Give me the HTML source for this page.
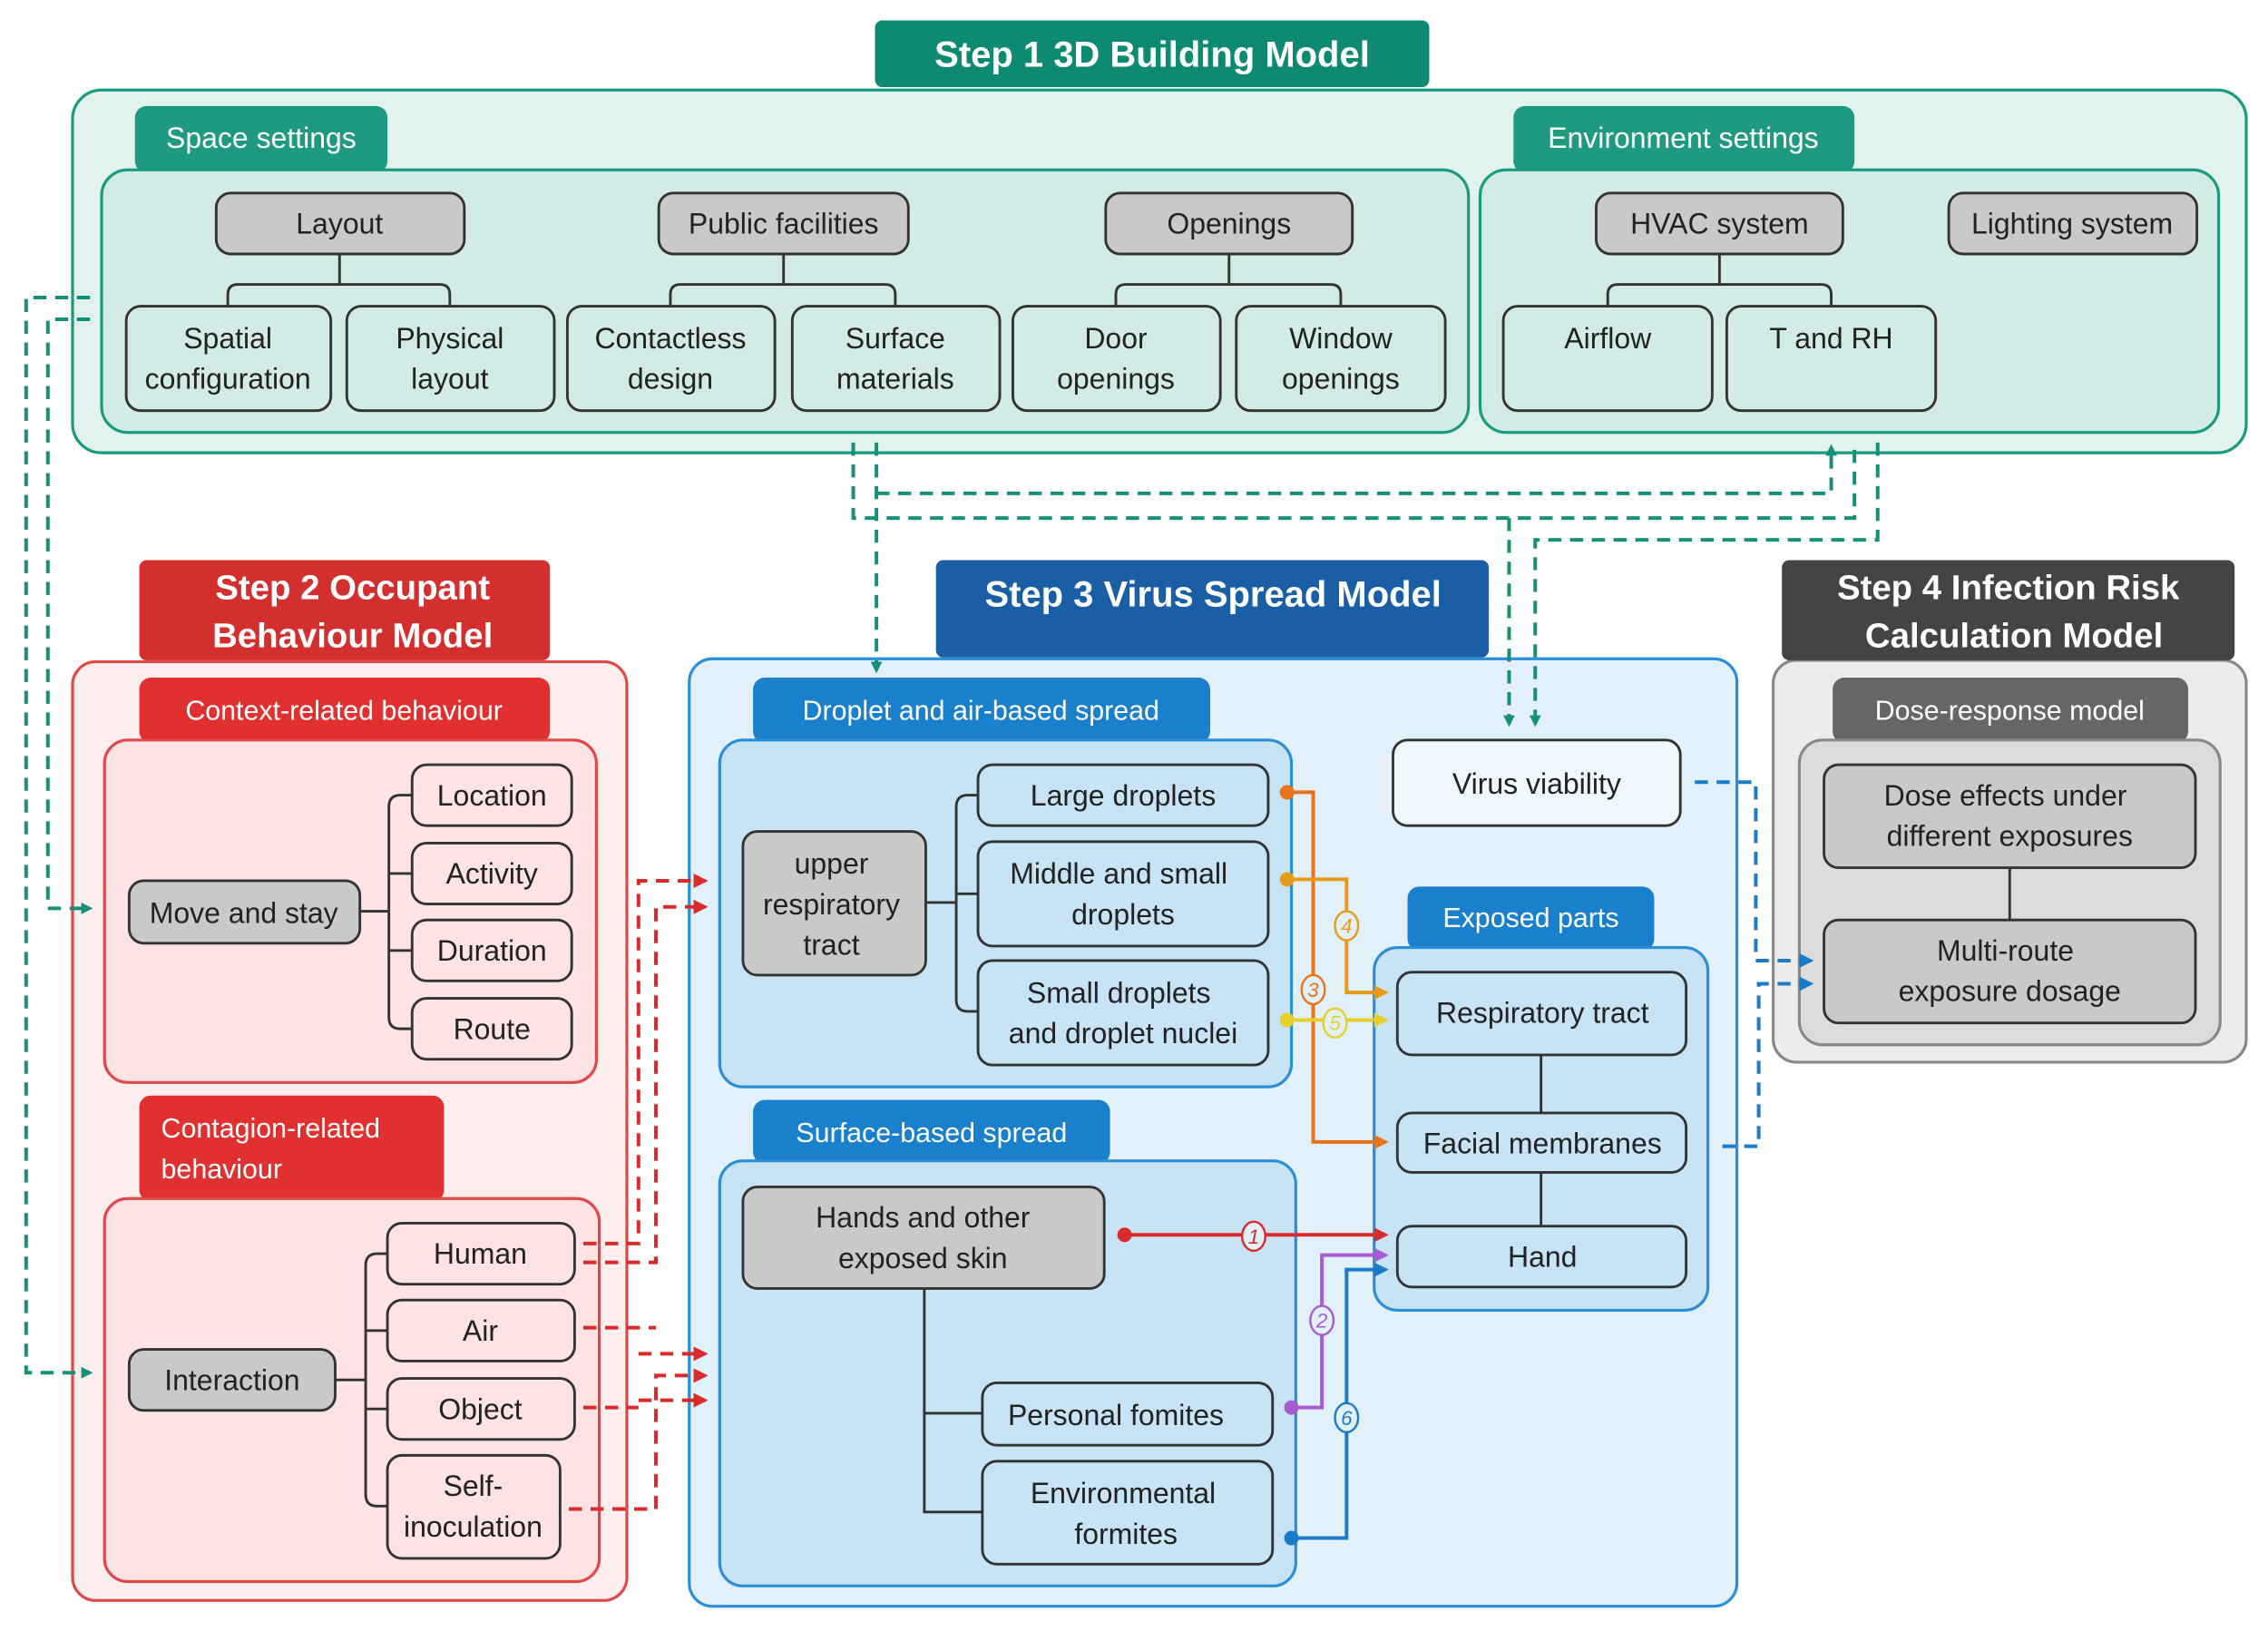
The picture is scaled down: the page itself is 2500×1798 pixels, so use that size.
<!DOCTYPE html>
<html><head><meta charset="utf-8"><style>html,body{margin:0;padding:0;background:#fff}svg{display:block}</style></head><body>
<svg xmlns="http://www.w3.org/2000/svg" width="2500" height="1798" viewBox="0 0 1563 1124" font-family="Liberation Sans, Arial, sans-serif">
<defs>
<marker id="at" markerWidth="8" markerHeight="8" refX="6" refY="4" orient="auto" markerUnits="userSpaceOnUse"><path d="M0,0L8,4L0,8z" fill="#17907a"/></marker>
<marker id="ar" markerWidth="10" markerHeight="10" refX="8" refY="5" orient="auto" markerUnits="userSpaceOnUse"><path d="M0,0L10,5L0,10z" fill="#d92b2b"/></marker>
<marker id="ab" markerWidth="10" markerHeight="10" refX="8" refY="5" orient="auto" markerUnits="userSpaceOnUse"><path d="M0,0L10,5L0,10z" fill="#1a7cc8"/></marker>
<marker id="ao" markerWidth="10" markerHeight="10" refX="8" refY="5" orient="auto" markerUnits="userSpaceOnUse"><path d="M0,0L10,5L0,10z" fill="#e8731a"/></marker>
<marker id="ao2" markerWidth="10" markerHeight="10" refX="8" refY="5" orient="auto" markerUnits="userSpaceOnUse"><path d="M0,0L10,5L0,10z" fill="#e89a1a"/></marker>
<marker id="ay" markerWidth="10" markerHeight="10" refX="8" refY="5" orient="auto" markerUnits="userSpaceOnUse"><path d="M0,0L10,5L0,10z" fill="#e6cf2a"/></marker>
<marker id="ap" markerWidth="10" markerHeight="10" refX="8" refY="5" orient="auto" markerUnits="userSpaceOnUse"><path d="M0,0L10,5L0,10z" fill="#a95bd0"/></marker>
</defs>

<!-- STEP 1 -->
<rect x="50" y="62" width="1498" height="250" rx="20" fill="#e2f2ee" stroke="#1a9a80" stroke-width="2"/>
<rect x="603" y="14" width="382" height="46" rx="5" fill="#0f8a72"/>
<text x="794" y="46" fill="#fff" font-size="25" font-weight="bold" text-anchor="middle">Step 1 3D Building Model</text>
<rect x="93" y="73" width="174" height="46" rx="8" fill="#1d9a80"/>
<text x="180" y="102" fill="#fff" font-size="20" text-anchor="middle">Space settings</text>
<rect x="1043" y="73" width="235" height="46" rx="8" fill="#1d9a80"/>
<text x="1160" y="102" fill="#fff" font-size="20" text-anchor="middle">Environment settings</text>
<rect x="70" y="117" width="942" height="181" rx="18" fill="#d3ebe6" stroke="#1a9a80" stroke-width="2"/>
<rect x="1020" y="117" width="509" height="181" rx="18" fill="#d3ebe6" stroke="#1a9a80" stroke-width="2"/>
<g fill="#c9c9c9" stroke="#333" stroke-width="1.8">
<rect x="149" y="133" width="171" height="42" rx="10"/>
<rect x="454" y="133" width="172" height="42" rx="10"/>
<rect x="762" y="133" width="170" height="42" rx="10"/>
<rect x="1100" y="133" width="170" height="42" rx="10"/>
<rect x="1343" y="133" width="171" height="42" rx="10"/>
</g>
<g font-size="20" fill="#222" text-anchor="middle">
<text x="234" y="161">Layout</text><text x="540" y="161">Public facilities</text><text x="847" y="161">Openings</text><text x="1185" y="161">HVAC system</text><text x="1428" y="161">Lighting system</text>
</g>
<g fill="#d3ebe6" stroke="#333" stroke-width="1.8">
<rect x="87" y="211" width="141" height="72" rx="10"/><rect x="239" y="211" width="143" height="72" rx="10"/>
<rect x="391" y="211" width="143" height="72" rx="10"/><rect x="546" y="211" width="143" height="72" rx="10"/>
<rect x="698" y="211" width="143" height="72" rx="10"/><rect x="852" y="211" width="144" height="72" rx="10"/>
<rect x="1036" y="211" width="144" height="72" rx="10"/><rect x="1190" y="211" width="144" height="72" rx="10"/>
</g>
<g fill="none" stroke="#333" stroke-width="1.8">
<path d="M234 175V196M157 211V203q0-7 7-7H303q7 0 7 7V211"/>
<path d="M540 175V196M462 211V203q0-7 7-7H610q7 0 7 7V211"/>
<path d="M847 175V196M769 211V203q0-7 7-7H917q7 0 7 7V211"/>
<path d="M1185 175V196M1108 211V203q0-7 7-7H1255q7 0 7 7V211"/>
</g>
<g font-size="20" fill="#222" text-anchor="middle">
<text x="157" y="240">Spatial</text><text x="157" y="268">configuration</text>
<text x="310" y="240">Physical</text><text x="310" y="268">layout</text>
<text x="462" y="240">Contactless</text><text x="462" y="268">design</text>
<text x="617" y="240">Surface</text><text x="617" y="268">materials</text>
<text x="769" y="240">Door</text><text x="769" y="268">openings</text>
<text x="924" y="240">Window</text><text x="924" y="268">openings</text>
<text x="1108" y="240">Airflow</text><text x="1262" y="240">T and RH</text>
</g>

<!-- STEP 2 -->
<rect x="50" y="456" width="382" height="647" rx="16" fill="#fdeeee" stroke="#e04848" stroke-width="2"/>
<rect x="96" y="386" width="283" height="69" rx="5" fill="#d32f2f"/>
<text x="243" y="413" fill="#fff" font-size="24" font-weight="bold" text-anchor="middle">Step 2  Occupant</text>
<text x="243" y="446" fill="#fff" font-size="24" font-weight="bold" text-anchor="middle">Behaviour Model</text>
<rect x="96" y="467" width="283" height="45" rx="8" fill="#e03030"/>
<text x="237" y="496" fill="#fff" font-size="19" text-anchor="middle">Context-related behaviour</text>
<rect x="72" y="510" width="339" height="236" rx="16" fill="#fde3e3" stroke="#e04848" stroke-width="2"/>
<rect x="96" y="755" width="210" height="73" rx="8" fill="#e03030"/>
<text x="111" y="784" fill="#fff" font-size="19">Contagion-related</text>
<text x="111" y="812" fill="#fff" font-size="19">behaviour</text>
<rect x="72" y="826" width="341" height="264" rx="16" fill="#fde3e3" stroke="#e04848" stroke-width="2"/>
<g fill="#c9c9c9" stroke="#333" stroke-width="1.8">
<rect x="89" y="607" width="159" height="43" rx="10"/>
<rect x="89" y="930" width="142" height="42" rx="10"/>
</g>
<g fill="#fde3e3" stroke="#333" stroke-width="1.8">
<rect x="284" y="527" width="110" height="42" rx="10"/><rect x="284" y="581" width="110" height="42" rx="10"/>
<rect x="284" y="634" width="110" height="42" rx="10"/><rect x="284" y="688" width="110" height="42" rx="10"/>
<rect x="267" y="843" width="129" height="42" rx="10"/><rect x="267" y="896" width="129" height="42" rx="10"/>
<rect x="267" y="950" width="129" height="42" rx="10"/><rect x="267" y="1003" width="119" height="71" rx="10"/>
</g>
<g fill="none" stroke="#333" stroke-width="1.8">
<path d="M248 628H268M284 548h-8q-8 0-8 8V701q0 8 8 8h8M268 602H284M268 655H284"/>
<path d="M231 951H252M267 864h-7q-8 0-8 8V1030q0 8 8 8h7M252 917H267M252 971H267"/>
</g>
<g font-size="20" fill="#222" text-anchor="middle">
<text x="168" y="636">Move and stay</text>
<text x="339" y="555">Location</text><text x="339" y="609">Activity</text><text x="339" y="662">Duration</text><text x="339" y="716">Route</text>
<text x="160" y="958">Interaction</text>
<text x="331" y="871">Human</text><text x="331" y="924">Air</text><text x="331" y="978">Object</text>
<text x="326" y="1031">Self-</text><text x="326" y="1059">inoculation</text>
</g>

<!-- STEP 3 -->
<rect x="475" y="454" width="722" height="653" rx="16" fill="#e1f0f9" stroke="#2b8ed6" stroke-width="2"/>
<rect x="645" y="386" width="381" height="67" rx="5" fill="#1a5fa5"/>
<text x="836" y="418" fill="#fff" font-size="25" font-weight="bold" text-anchor="middle">Step 3 Virus Spread Model</text>
<rect x="519" y="467" width="315" height="45" rx="8" fill="#1a80cc"/>
<text x="676" y="496" fill="#fff" font-size="19" text-anchor="middle">Droplet and air-based spread</text>
<rect x="496" y="510" width="394" height="239" rx="16" fill="#c7e3f4" stroke="#2b8ed6" stroke-width="2"/>
<rect x="519" y="758" width="246" height="44" rx="8" fill="#1a80cc"/>
<text x="642" y="787" fill="#fff" font-size="19" text-anchor="middle">Surface-based spread</text>
<rect x="496" y="800" width="397" height="293" rx="16" fill="#c7e3f4" stroke="#2b8ed6" stroke-width="2"/>
<rect x="970" y="611" width="170" height="44" rx="8" fill="#1a80cc"/>
<text x="1055" y="639" fill="#fff" font-size="19" text-anchor="middle">Exposed parts</text>
<rect x="947" y="653" width="230" height="250" rx="16" fill="#c7e3f4" stroke="#2b8ed6" stroke-width="2"/>
<g fill="#c9c9c9" stroke="#333" stroke-width="1.8">
<rect x="512" y="573" width="126" height="99" rx="10"/>
<rect x="512" y="818" width="249" height="70" rx="10"/>
</g>
<g fill="#c7e3f4" stroke="#333" stroke-width="1.8">
<rect x="674" y="527" width="200" height="42" rx="10"/><rect x="674" y="580" width="200" height="72" rx="10"/>
<rect x="674" y="662" width="200" height="72" rx="10"/>
<rect x="677" y="953" width="200" height="43" rx="10"/><rect x="677" y="1007" width="200" height="71" rx="10"/>
<rect x="963" y="670" width="199" height="57" rx="10"/><rect x="963" y="767" width="199" height="41" rx="10"/><rect x="963" y="845" width="199" height="42" rx="10"/>
</g>
<rect x="960" y="510" width="198" height="59" rx="10" fill="#eef7fc" stroke="#333" stroke-width="1.8"/>
<g fill="none" stroke="#333" stroke-width="1.8">
<path d="M638 622H659M674 548h-7q-8 0-8 8V689q0 8 8 8h7M659 616H674"/>
<path d="M637 888V1042H677M637 974H677"/>
<path d="M1062 727V767M1062 808V845"/>
</g>
<g font-size="20" fill="#222" text-anchor="middle">
<text x="573" y="602">upper</text><text x="573" y="630">respiratory</text><text x="573" y="658">tract</text>
<text x="774" y="555">Large droplets</text>
<text x="771" y="609">Middle and  small</text><text x="774" y="637">droplets</text>
<text x="771" y="691">Small droplets</text><text x="774" y="719">and droplet nuclei</text>
<text x="636" y="846">Hands and other</text><text x="636" y="874">exposed skin</text>
<text x="769" y="982">Personal  fomites</text>
<text x="774" y="1036">Environmental</text><text x="776" y="1064">formites</text>
<text x="1059" y="547">Virus viability</text>
<text x="1063" y="705">Respiratory tract</text>
<text x="1063" y="795">Facial membranes</text>
<text x="1063" y="873">Hand</text>
</g>

<!-- STEP 4 -->
<rect x="1222" y="455" width="326" height="277" rx="16" fill="#ececec" stroke="#888" stroke-width="2"/>
<rect x="1228" y="386" width="312" height="69" rx="5" fill="#444"/>
<text x="1384" y="413" fill="#fff" font-size="24" font-weight="bold" text-anchor="middle">Step 4 Infection Risk</text>
<text x="1388" y="446" fill="#fff" font-size="24" font-weight="bold" text-anchor="middle">Calculation Model</text>
<rect x="1263" y="467" width="245" height="45" rx="8" fill="#666"/>
<text x="1385" y="496" fill="#fff" font-size="19" text-anchor="middle">Dose-response model</text>
<rect x="1240" y="510" width="290" height="210" rx="16" fill="#dcdcdc" stroke="#888" stroke-width="2"/>
<g fill="#c9c9c9" stroke="#333" stroke-width="1.8">
<rect x="1257" y="527" width="256" height="71" rx="10"/><rect x="1257" y="634" width="256" height="71" rx="10"/>
</g>
<path d="M1385 598V634" stroke="#333" stroke-width="1.8"/>
<g font-size="20" fill="#222" text-anchor="middle">
<text x="1382" y="555">Dose effects under</text><text x="1385" y="583">different exposures</text>
<text x="1382" y="662">Multi-route</text><text x="1385" y="690">exposure dosage</text>
</g>

<!-- teal dashed -->
<g fill="none" stroke="#17907a" stroke-width="2.5" stroke-dasharray="9,6">
<path d="M62 205H18V946H62" marker-end="url(#at)"/>
<path d="M62 220H33V626H62" marker-end="url(#at)"/>
<path d="M604 305V462" marker-end="url(#at)"/>
<path d="M604 340H1262V308" marker-end="url(#at)"/>
<path d="M588 305V357H1278V305"/>
<path d="M1040 357V499" marker-end="url(#at)"/>
<path d="M1294 305V372H1058V499" marker-end="url(#at)"/>
</g>
<!-- red dashed -->
<g fill="none" stroke="#d92b2b" stroke-width="2.5" stroke-dasharray="9,6">
<path d="M402 857H440V607H486" marker-end="url(#ar)"/>
<path d="M402 870H452V625H486" marker-end="url(#ar)"/>
<path d="M402 915H452"/>
<path d="M402 970H440"/>
<path d="M392 1040H452V948H486" marker-end="url(#ar)"/>
<path d="M440 933H486" marker-end="url(#ar)"/>
<path d="M440 965H486" marker-end="url(#ar)"/>
</g>
<!-- blue dashed -->
<g fill="none" stroke="#1a7cc8" stroke-width="2.5" stroke-dasharray="9,6">
<path d="M1168 539H1210V662H1248" marker-end="url(#ab)"/>
<path d="M1187 790H1212V678H1248" marker-end="url(#ab)"/>
</g>
<!-- solid colored -->
<g fill="none" stroke-width="2.5">
<path d="M887 546H905V787H955" stroke="#e8731a" marker-end="url(#ao)"/>
<path d="M887 606H928V684H955" stroke="#e89a1a" marker-end="url(#ao2)"/>
<path d="M887 703H955" stroke="#e6cf2a" marker-end="url(#ay)"/>
<path d="M775 851H955" stroke="#d92b2b" marker-end="url(#ar)"/>
<path d="M890 970H911V865H955" stroke="#a95bd0" marker-end="url(#ap)"/>
<path d="M890 1060H928V875H955" stroke="#1a7cc8" marker-end="url(#ab)"/>
</g>
<g>
<circle cx="887" cy="546" r="5" fill="#e8731a"/><circle cx="887" cy="606" r="5" fill="#e89a1a"/>
<circle cx="887" cy="703" r="5" fill="#e6cf2a"/><circle cx="775" cy="851" r="5" fill="#d92b2b"/>
<circle cx="890" cy="970" r="5" fill="#a95bd0"/><circle cx="890" cy="1060" r="5" fill="#1a7cc8"/>
</g>
<g font-size="14" font-style="italic" text-anchor="middle" stroke-width="1.5">
<ellipse cx="905" cy="682" rx="8" ry="10" fill="#e1f0f9" stroke="#e8731a"/><text x="905" y="687" fill="#e8731a">3</text>
<ellipse cx="928" cy="638" rx="8" ry="10" fill="#e1f0f9" stroke="#e89a1a"/><text x="928" y="643" fill="#e89a1a">4</text>
<ellipse cx="920" cy="705" rx="8" ry="10" fill="#e1f0f9" stroke="#e6cf2a"/><text x="920" y="710" fill="#e6cf2a">5</text>
<ellipse cx="864" cy="852" rx="8" ry="10" fill="#e1f0f9" stroke="#d92b2b"/><text x="864" y="857" fill="#d92b2b">1</text>
<ellipse cx="911" cy="910" rx="8" ry="10" fill="#e1f0f9" stroke="#a95bd0"/><text x="911" y="915" fill="#a95bd0">2</text>
<ellipse cx="928" cy="977" rx="8" ry="10" fill="#e1f0f9" stroke="#1a7cc8"/><text x="928" y="982" fill="#1a7cc8">6</text>
</g>
</svg>
</body></html>
